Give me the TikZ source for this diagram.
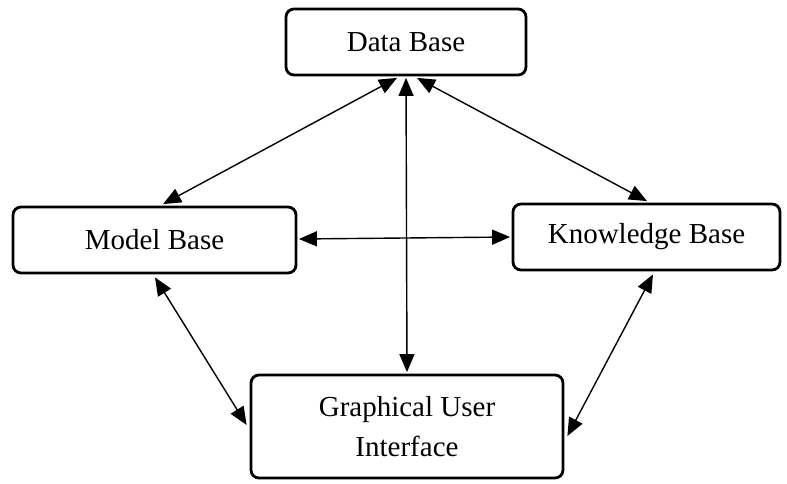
\documentclass[tikz,border=0pt]{standalone}
\usepackage{fontspec}
\setmainfont{Liberation Serif}
\usetikzlibrary{arrows.meta}
\begin{document}
\begin{tikzpicture}[x=1pt,y=-1pt,
  box/.style={draw, line width=2.8pt, rounded corners=8pt, inner sep=0pt, align=center,
    font=\fontsize{29}{40}\selectfont},
  link/.style={line width=1.4pt, {Triangle[length=18pt,width=15pt]}-{Triangle[length=18pt,width=15pt]}}]
\useasboundingbox (0,0) rectangle (787,483);
\node[box, minimum width=240pt, minimum height=66pt] (db) at (406,42) {Data Base};
\node[box, minimum width=283pt, minimum height=66pt] (mb) at (154.5,240) {Model Base};
\node[box, minimum width=267pt, minimum height=66pt] (kb) at (646.5,237) {Knowledge Base};
\node[box, minimum width=312pt, minimum height=103pt] (gui) at (407,426.5) {Graphical User\\Interface};
\draw[link] ([xshift=-9pt,yshift=-1.5pt]db.south) -- ([xshift=8.5pt,yshift=1.5pt]mb.north);
\draw[link] ([yshift=-1.5pt]db.south) -- ([yshift=1.5pt]gui.north);
\draw[link] ([xshift=11pt,yshift=-1.5pt]db.south) -- ([xshift=0.5pt,yshift=1.5pt]kb.north);
\draw[link] ([xshift=1.5pt,yshift=1pt]mb.east) -- ([xshift=-1.5pt]kb.west);
\draw[link] ([xshift=0.5pt,yshift=-3pt]mb.south) -- ([xshift=-3pt,yshift=1.5pt]gui.west);
\draw[link] ([xshift=6.5pt,yshift=-3pt]kb.south) -- ([xshift=3pt,yshift=-9.5pt]gui.east);
\end{tikzpicture}
\end{document}
